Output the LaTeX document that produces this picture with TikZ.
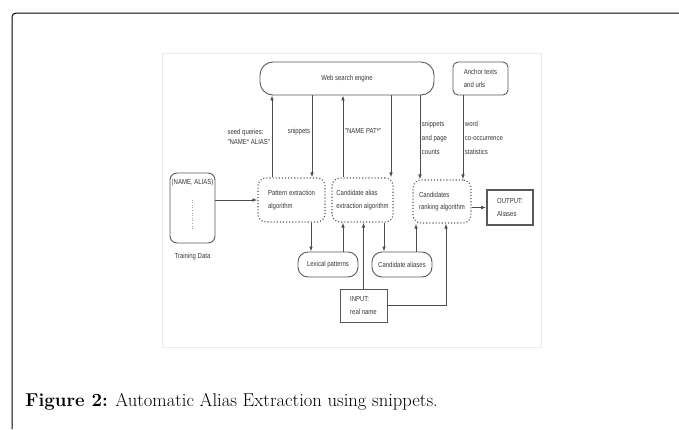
\documentclass[tikz,border=0pt]{standalone}
\usepackage{fontspec}
\newfontfamily\diagfont{Liberation Sans}[FakeStretch=0.82]
\usetikzlibrary{arrows.meta}

\begin{document}
\begin{tikzpicture}[x=1pt, y=-1pt, ->, >={Latex[length=5pt,width=3.6pt]},
	line width=0.9pt, draw=black!70, text=black!80,
	font=\diagfont\fontsize{7.3}{10}\selectfont,
	box/.style={draw=black!65, rounded corners=7pt, align=left, inner sep=1pt},
	algo/.style={draw=black!65, dotted, line width=1.1pt, rounded corners=8pt, align=left, inner sep=1pt,
		font=\diagfont\fontsize{7.3}{12.5}\selectfont},
	io/.style={draw=black!65, align=left, inner sep=1pt, font=\diagfont\fontsize{7.3}{12.5}\selectfont},
	lbl/.style={align=left, inner sep=1.5pt},
	tall/.style={font=\diagfont\fontsize{7.3}{14}\selectfont}]
	\useasboundingbox (0,0) rectangle (679,429);
	% page frame and picture panel
	\draw[-, black, line width=1pt, rounded corners=4pt] (12,429) -- (12,13) -- (679,13);
	\draw[-, black!8, line width=0.8pt] (162,53) rectangle (541,347);

	% top row
	\node[box, rounded corners=13pt, minimum width=174pt, minimum height=33pt] (web) at (347,78.5) {Web search engine};
	\node[box, rounded corners=5pt, minimum width=55pt, minimum height=33pt,
		font=\diagfont\fontsize{7.3}{13}\selectfont] (anchor) at (480.5,78.5) {Anchor texts\\and urls};
	% middle row
	\node[box, minimum width=45pt, minimum height=70pt,
		label={[anchor=north, yshift=-6pt, inner sep=0pt]north:(NAME, ALIAS)},
		label={[yshift=-6pt]below:Training Data}] (names) at (192.5,208) {};
	\draw[-, dotted, black!35, line width=0.6pt] ([yshift=-27pt]names.north) -- ([yshift=15pt]names.south);
	\node[algo, minimum width=67pt, minimum height=44pt] (pattern) at (291.5,200) {Pattern extraction\\algorithm};
	\node[algo, minimum width=61pt, minimum height=44pt] (candalg) at (362.5,200) {Candidate alias\\extraction algorithm};
	\node[algo, minimum width=58pt, minimum height=43pt] (ranking) at (442,201.5) {Candidates\\ranking algorithm};
	\node[io, line width=1.6pt, minimum width=46pt, minimum height=35pt] (output) at (510,207.5) {OUTPUT:\\Aliases};
	% bottom row
	\node[box, rounded corners=10pt, minimum width=60pt, minimum height=25pt] (lexical) at (328,264.5) {Lexical patterns};
	\node[box, rounded corners=10pt, minimum width=60pt, minimum height=25pt] (aliases) at (402,264.5) {Candidate aliases};
	\node[io, minimum width=47pt, minimum height=33pt] (input) at (363.5,305.5) {INPUT:\\real name};

	% queries and results
	\draw ([xshift=-19.5pt]pattern.north) -- node[lbl, left]{seed queries:\\"NAME* ALIAS"} ([xshift=-19.5pt]pattern.north |- web.south);
	\draw ([xshift=20.5pt]pattern.north |- web.south) -- node[lbl, left, yshift=5pt]{snippets} ([xshift=20.5pt]pattern.north);
	\draw ([xshift=-19.5pt]candalg.north) -- node[lbl, right, yshift=5pt]{"NAME PAT*"} ([xshift=-19.5pt]candalg.north |- web.south);
	\draw ([xshift=28.5pt]candalg.north |- web.south) -- ([xshift=28.5pt]candalg.north);
	\draw ([xshift=-22pt]ranking.north |- web.south) -- node[lbl, right, tall]{snippets\\and page\\counts} ([xshift=-22pt]ranking.north);
	\draw ([xshift=-17.5pt]anchor.south) -- node[lbl, right, tall]{word\\co-occurrence\\statistics} ([xshift=-17.5pt]anchor.south |- ranking.north);

	\draw (names.east |- pattern.west) -- (pattern.west);
	\draw (ranking.east |- output.west) -- (output.west);

	\draw ([xshift=19.5pt]pattern.south) -- ([xshift=19.5pt]pattern.south |- lexical.north);
	\draw ([xshift=-19.5pt]candalg.south |- lexical.north) -- ([xshift=-19.5pt]candalg.south);
	\draw (input.north) -- (input.north |- candalg.south);
	\draw ([xshift=21.5pt]candalg.south) -- ([xshift=21.5pt]candalg.south |- aliases.north);
	\draw ([xshift=-26pt]ranking.south |- aliases.north) -- ([xshift=-26pt]ranking.south);
	\draw (input.east) -| ([xshift=4pt]ranking.south);

	\node[anchor=base west, inner sep=0pt, text=black, font=\rmfamily\fontsize{18.6}{20}\selectfont] (caption) at (25,406)
		{\textbf{Figure 2:} Automatic Alias Extraction using snippets.};
\end{tikzpicture}
\end{document}
